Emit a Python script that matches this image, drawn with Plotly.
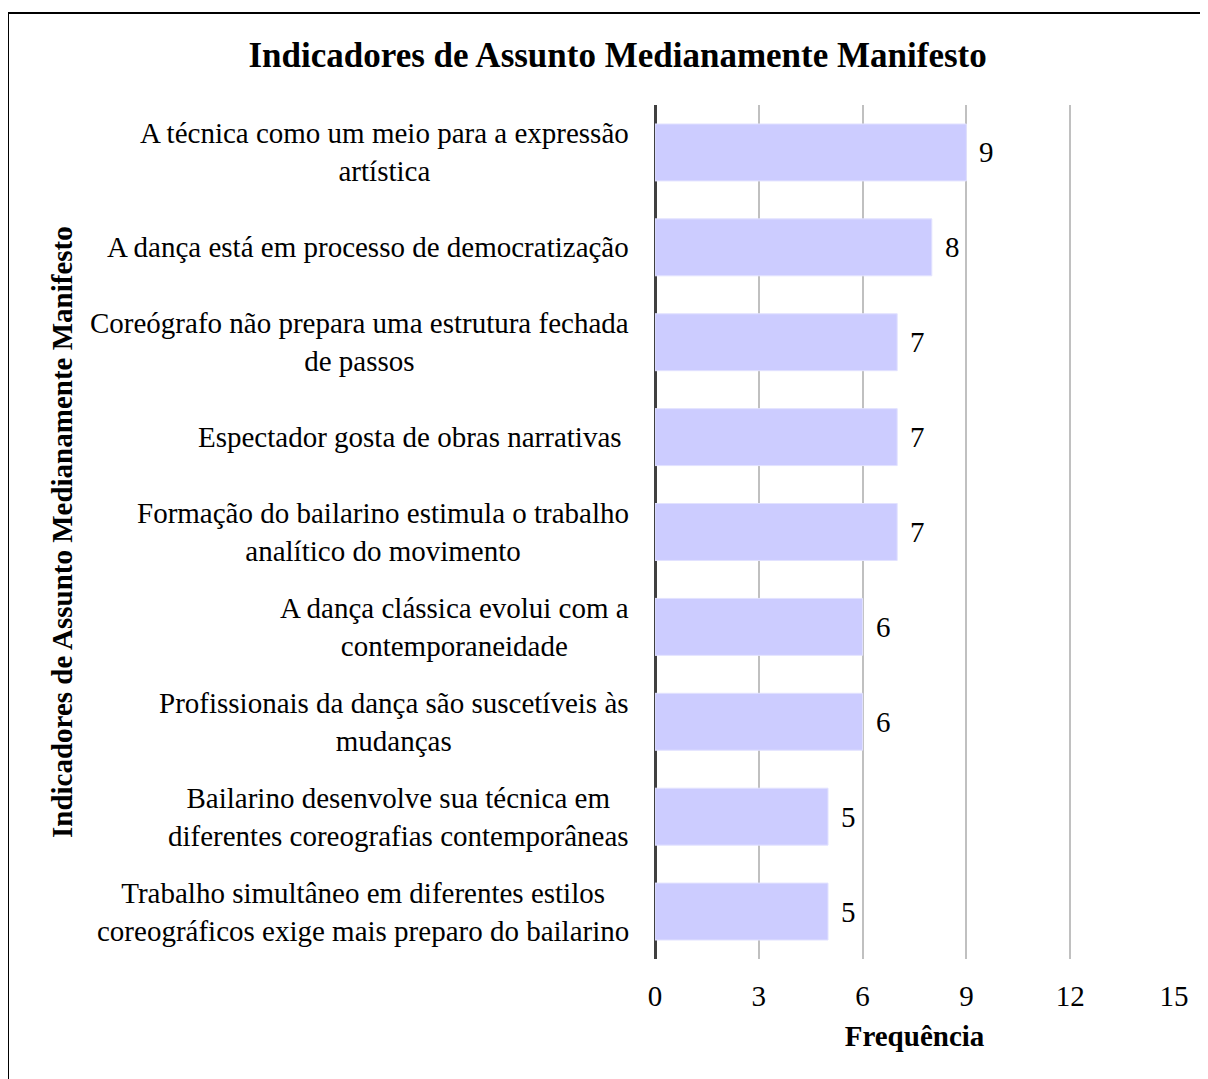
import plotly.graph_objects as go

# indicadores (de cima para baixo) e frequências
indicadores = [
    'A técnica como um meio para a expressão<br>artística',
    'A dança está em processo de democratização',
    'Coreógrafo não prepara uma estrutura fechada<br>de passos',
    'Espectador gosta de obras narrativas ',
    'Formação do bailarino estimula o trabalho<br>analítico do movimento',
    'A dança clássica evolui com a<br>contemporaneidade',
    'Profissionais da dança são suscetíveis às<br>mudanças',
    'Bailarino desenvolve sua técnica em<br>diferentes coreografias contemporâneas',
    'Trabalho simultâneo em diferentes estilos<br>coreográficos exige mais preparo do bailarino',
]
frequencia = [9, 8, 7, 7, 7, 6, 6, 5, 5]
ticks_x = [0, 3, 6, 9, 12, 15]

title = 'Indicadores de Assunto Medianamente Manifesto'
serif = 'Liberation Serif'
fs = 29

# a página desloca a figura 8px (margem do body)
W, H = 1200, 1071
ml, mr, mt, mb = 647, 34, 97, 120
pw, ph = W - ml - mr, H - mt - mb

fig = go.Figure(go.Bar(
    x=frequencia, y=indicadores, orientation='h',
    marker=dict(color='#CCCCFF', line=dict(color='#E2E2FF', width=1)),
    hoverinfo='x+y',
))

# rótulos de categoria (centralizados, como no original)
for cat in indicadores:
    fig.add_annotation(x=0, xref='paper', y=cat, yref='y', text=cat,
                       xanchor='right', xshift=-24, align='center',
                       showarrow=False, font=dict(size=fs, color='black'))

# rótulos de valor com fundo branco
for cat, v in zip(indicadores, frequencia):
    fig.add_annotation(x=v, y=cat, text=str(v), xanchor='left', xshift=11,
                       showarrow=False, bgcolor='white', borderpad=1,
                       font=dict(size=fs, color='black'))

# título do eixo y
fig.add_annotation(x=(54 - ml) / pw, xref='paper', xanchor='center',
                   y=0.5, yref='paper', yanchor='middle',
                   text='<b>Indicadores de Assunto Medianamente Manifesto</b>',
                   textangle=-90, showarrow=False,
                   font=dict(size=fs, color='black'))

# moldura
fig.add_shape(type='rect', xref='paper', yref='paper',
              x0=(0 - ml) / pw, x1=(W + 20 - ml) / pw,
              y0=(mb - H - 20) / ph, y1=1 + (mt - 5) / ph,
              line=dict(color='black', width=2))

fig.update_layout(
    width=W, height=H,
    margin=dict(l=ml, r=mr, t=mt, b=mb),
    paper_bgcolor='white', plot_bgcolor='white',
    font=dict(family=serif, size=fs, color='black'),
    title=dict(text='<b>' + title + '</b>', x=0.508, xanchor='center',
               y=1 - 47 / H, yanchor='middle', font=dict(size=35)),
    bargap=0.4, showlegend=False,
    xaxis=dict(range=[0, 15], tickvals=ticks_x, showgrid=True,
               gridcolor='#C0C0C0', gridwidth=1.5,
               zeroline=True, zerolinecolor='#404040', zerolinewidth=3,
               showline=False, ticks='', ticklabelstandoff=17,
               tickfont=dict(size=fs),
               title=dict(text='<b>Frequência</b>', standoff=14,
                          font=dict(size=fs))),
    yaxis=dict(autorange='reversed', showticklabels=False, showgrid=False,
               ticks='', showline=False),
)

fig.write_html('out.html')
